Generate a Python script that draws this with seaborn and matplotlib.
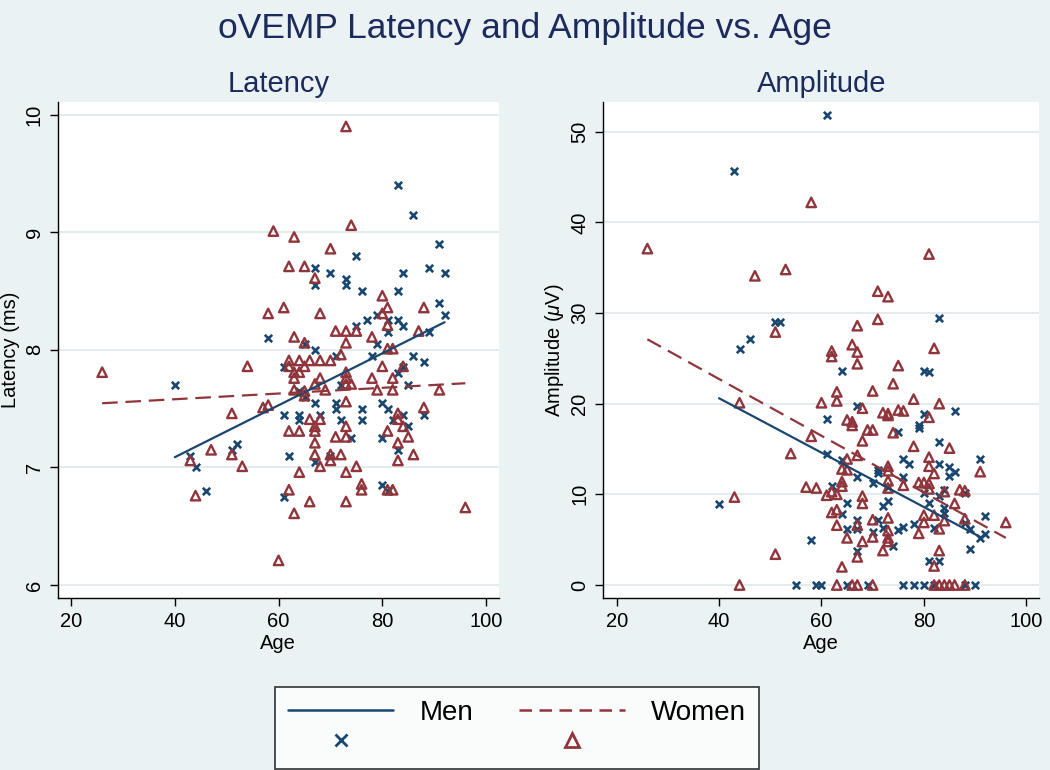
import numpy as np
import pandas as pd
import matplotlib.pyplot as plt
from matplotlib.lines import Line2D
import seaborn as sns

# ---- Latency panel (age, latency in ms) ----
men_lat_age = [83, 86, 91, 75, 67, 89, 70, 84, 92, 73, 67, 73, 76, 83, 91, 79, 92, 77, 81, 83,
               75, 84, 81, 89, 58, 79, 65, 67, 78, 86, 71, 88, 61, 84, 83, 40, 72, 85, 64, 65,
               67, 71, 80, 71, 76, 81, 61, 64, 68, 84, 88, 64, 72, 76, 82, 85, 74, 80, 52, 51,
               83, 43, 62, 70, 67, 44, 80, 46, 81, 61]
men_lat = [9.40, 9.15, 8.90, 8.80, 8.70, 8.70, 8.65, 8.65, 8.65, 8.60, 8.55, 8.55, 8.50, 8.50, 8.40,
           8.30, 8.30, 8.25, 8.25, 8.25, 8.20, 8.20, 8.15, 8.15, 8.10, 8.05, 8.05, 8.00, 7.95, 7.95,
           7.95, 7.90, 7.85, 7.85, 7.80, 7.70, 7.70, 7.70, 7.65, 7.60, 7.55, 7.55, 7.55, 7.50, 7.50,
           7.50, 7.45, 7.45, 7.45, 7.45, 7.45, 7.40, 7.40, 7.40, 7.40, 7.35, 7.25, 7.25, 7.20, 7.15,
           7.15, 7.10, 7.10, 7.10, 7.05, 7.00, 6.85, 6.80, 6.80, 6.75]

women_lat_age = [73, 74, 59, 63, 70, 62, 65, 67, 80, 61, 81, 88, 58, 68, 80, 81, 71, 73, 75, 87,
                 63, 78, 65, 73, 81, 82, 72, 62, 64, 66, 68, 70, 62, 65, 54, 80, 84, 63, 64, 73,
                 26, 63, 68, 73, 78, 82, 67, 73, 74, 63, 69, 79, 82, 91, 65, 65, 73, 58, 57, 88,
                 51, 83, 66, 68, 83, 67, 73, 84, 62, 64, 67, 81, 71, 73, 85, 67, 83, 47, 43, 51,
                 67, 70, 72, 86, 70, 83, 53, 68, 75, 64, 73, 76, 76, 62, 81, 82, 44, 66, 73, 63,
                 60, 96]
women_lat = [9.90, 9.06, 9.01, 8.96, 8.86, 8.71, 8.71, 8.61, 8.46, 8.36, 8.36, 8.36, 8.31, 8.31, 8.31,
             8.21, 8.16, 8.16, 8.16, 8.16, 8.11, 8.11, 8.06, 8.06, 8.01, 8.01, 7.96, 7.91, 7.91, 7.91,
             7.91, 7.91, 7.86, 7.86, 7.86, 7.86, 7.86, 7.81, 7.81, 7.81, 7.81, 7.76, 7.76, 7.76, 7.76,
             7.76, 7.71, 7.71, 7.71, 7.66, 7.66, 7.66, 7.66, 7.66, 7.65, 7.61, 7.56, 7.53, 7.51, 7.51,
             7.46, 7.46, 7.41, 7.41, 7.41, 7.35, 7.35, 7.35, 7.31, 7.31, 7.31, 7.31, 7.26, 7.26, 7.26,
             7.21, 7.21, 7.15, 7.06, 7.11, 7.11, 7.11, 7.11, 7.11, 7.06, 7.06, 7.01, 7.01, 7.01, 6.96,
             6.96, 6.86, 6.81, 6.81, 6.81, 6.81, 6.76, 6.71, 6.71, 6.61, 6.21, 6.66]

# fitted lines (end points)
men_lat_fit_age = [40, 92]
men_lat_fit = [7.087, 8.235]
women_lat_fit_age = [26, 96]
women_lat_fit = [7.546, 7.716]

# ---- Amplitude panel (age, amplitude in uV) ----
men_amp_age = [61, 43, 51, 52, 83, 44, 46, 64, 80, 81, 67, 80, 86, 61, 79, 79, 75, 83, 61, 64,
               76, 77, 91, 83, 85, 86, 71, 71, 85, 67, 76, 70, 62, 73, 80, 84, 88, 40, 65, 81,
               73, 72, 83, 84, 64, 84, 92, 67, 70, 71, 72, 65, 67, 75, 76, 78, 82, 88, 89, 92,
               91, 58, 74, 89, 67, 81, 83, 55, 59, 60, 65, 69, 76, 78, 80, 82, 88, 90]
men_amp = [51.8, 45.7, 29.0, 29.0, 29.4, 26.0, 27.1, 23.6, 23.6, 23.5, 19.7, 18.9, 19.2, 18.3, 17.7,
           17.3, 16.9, 15.8, 14.4, 13.8, 13.9, 13.4, 13.9, 13.4, 13.0, 12.5, 12.7, 12.4, 12.0, 11.9,
           11.9, 11.3, 10.9, 10.8, 10.2, 10.5, 10.1, 8.9, 9.1, 9.1, 9.3, 8.7, 9.8, 8.5, 7.8,
           7.9, 7.6, 7.2, 5.8, 7.2, 6.3, 6.2, 6.2, 6.1, 6.4, 6.7, 6.3, 6.8, 6.2, 5.6,
           5.2, 5.0, 4.3, 4.0, 3.8, 2.6, 2.6, 0, 0, 0, 0, 0, 0, 0, 0, 0, 0, 0]

women_amp_age = [26, 58, 47, 53, 81, 71, 73, 71, 51, 67, 66, 62, 67, 82, 62, 67, 75, 74, 63, 63,
                 70, 60, 44, 78, 83, 68, 72, 73, 73, 75, 76, 65, 81, 66, 66, 69, 70, 58, 74, 68,
                 78, 85, 54, 67, 65, 81, 73, 81, 64, 65, 73, 91, 82, 64, 73, 79, 80, 81, 64, 76,
                 57, 59, 81, 73, 87, 88, 62, 84, 63, 61, 43, 68, 68, 86, 63, 62, 82, 80, 73, 70,
                 84, 88, 96, 80, 67, 63, 73, 83, 79, 70, 73, 65, 68, 73, 72, 83, 51, 67, 82, 64,
                 44, 63, 66, 67, 70, 82, 83, 84, 85, 86, 88]
women_amp = [37.1, 42.2, 34.1, 34.8, 36.5, 32.4, 31.8, 29.3, 27.9, 28.6, 26.5, 25.8, 25.7, 26.1, 25.2,
             24.4, 24.2, 22.2, 21.3, 20.3, 21.4, 20.1, 20.1, 20.5, 20.0, 19.5, 19.0, 18.9, 18.7, 19.3,
             19.2, 18.2, 18.5, 18.0, 17.6, 17.1, 17.1, 16.4, 16.8, 15.9, 15.3, 15.1, 14.5, 14.3, 13.9,
             14.1, 13.1, 13.1, 12.8, 12.7, 12.6, 12.5, 12.3, 11.4, 11.5, 11.3, 11.3, 11.2, 10.9, 11.0,
             10.8, 10.7, 10.6, 10.7, 10.5, 10.4, 10.3, 10.3, 10.0, 9.9, 9.7, 9.8, 9.0, 9.0, 8.3,
             8.0, 7.7, 7.7, 7.4, 7.2, 7.1, 7.3, 6.9, 6.9, 6.6, 6.6, 6.0, 6.2, 5.7, 5.3,
             5.2, 5.2, 4.8, 4.8, 3.8, 3.8, 3.4, 3.1, 2.1, 2.0, 0, 0, 0, 0, 0,
             0, 0, 0, 0, 0, 0]

men_amp_fit_age = [40, 91]
men_amp_fit = [20.6, 5.3]
women_amp_fit_age = [26, 96]
women_amp_fit = [27.1, 5.2]

age_ticks = [20, 40, 60, 80, 100]
lat_ticks = [6, 7, 8, 9, 10]
amp_ticks = [0, 10, 20, 30, 40, 50]

BG = "#eaf2f3"
GRID = "#dfe9ec"
NAVY = "#1a476f"
MAROON = "#90353b"
TITLE = "#1c2a5c"
DASH = (0, (7, 3.5))

sns.set_theme(style="white")
plt.rcParams["font.family"] = ["Liberation Sans", "DejaVu Sans"]
plt.rcParams["mathtext.fontset"] = "custom"
plt.rcParams["mathtext.it"] = "Liberation Sans:italic"
plt.rcParams["mathtext.rm"] = "Liberation Sans"
plt.rcParams["text.color"] = "black"
plt.rcParams["axes.labelcolor"] = "black"
plt.rcParams["xtick.labelcolor"] = "black"
plt.rcParams["ytick.labelcolor"] = "black"


def draw_panel(ax, men_age, men_val, women_age, women_val, men_fit, women_fit,
               title, ylabel, yticks, ylim):
    men = pd.DataFrame({"age": men_age, "val": men_val})
    women = pd.DataFrame({"age": women_age, "val": women_val})

    ax.set_facecolor("white")
    ax.set_axisbelow(True)
    ax.grid(axis="y", color=GRID, lw=1.3)
    ax.grid(axis="x", visible=False)

    sns.scatterplot(data=men, x="age", y="val", marker="x", color=NAVY,
                    s=28, linewidth=1.9, ax=ax, zorder=3)
    sns.scatterplot(data=women, x="age", y="val", marker="^", facecolors="none",
                    edgecolor=MAROON, s=46, linewidth=1.7, ax=ax, zorder=3)
    sns.lineplot(x=men_fit[0], y=men_fit[1], color=NAVY, lw=1.6, ax=ax, zorder=4)
    sns.lineplot(x=women_fit[0], y=women_fit[1], color=MAROON, lw=1.6, ax=ax, zorder=4,
                 linestyle=DASH)

    ax.set_xlim(17.4, 102.5)
    ax.set_ylim(*ylim)
    ax.set_xticks(age_ticks)
    ax.set_yticks(yticks)
    ax.set_yticklabels([str(t) for t in yticks], rotation=90, va="center")
    ax.tick_params(axis="both", direction="out", length=6, width=1, color="black",
                   labelcolor="black", labelsize=14.5, pad=4, bottom=True, left=True)
    for side in ["top", "right"]:
        ax.spines[side].set_visible(False)
    for side in ["left", "bottom"]:
        ax.spines[side].set_color("black")
        ax.spines[side].set_linewidth(1.0)

    ax.set_title(title, fontsize=21, color=TITLE, pad=7)
    ax.set_xlabel("Age", fontsize=14.5, labelpad=2, color="black")
    ax.set_ylabel(ylabel, fontsize=14.5, labelpad=3, color="black")


fig = plt.figure(figsize=(10.5, 7.7), dpi=100, facecolor=BG)
ax1 = fig.add_axes([0.0548, 0.2234, 0.4205, 0.6445])
ax2 = fig.add_axes([0.5746, 0.2234, 0.4150, 0.6445])

draw_panel(ax1, men_lat_age, men_lat, women_lat_age, women_lat,
           (men_lat_fit_age, men_lat_fit), (women_lat_fit_age, women_lat_fit),
           "Latency", "Latency (ms)", lat_ticks, (5.89, 10.11))
draw_panel(ax2, men_amp_age, men_amp, women_amp_age, women_amp,
           (men_amp_fit_age, men_amp_fit), (women_amp_fit_age, women_amp_fit),
           "Amplitude", "Amplitude ($\\mu$V)", amp_ticks, (-1.43, 53.3))

fig.suptitle("oVEMP Latency and Amplitude vs. Age", fontsize=25.5, color=TITLE, y=0.985)

handles = [
    Line2D([], [], color=NAVY, lw=1.8),
    Line2D([], [], color=NAVY, marker="x", ls="none", markersize=8, markeredgewidth=2),
    Line2D([], [], color=MAROON, lw=1.8, ls=(0, (5, 3))),
    Line2D([], [], color=MAROON, marker="^", ls="none", markersize=10,
           markerfacecolor="none", markeredgewidth=2),
]
labels = ["Men", "", "Women", ""]
leg = fig.legend(handles, labels, ncol=2, loc="lower center", bbox_to_anchor=(0.4924, 0.0),
                 fontsize=20, frameon=True, fancybox=False, edgecolor="black",
                 handlelength=3.8, handletextpad=0.95, columnspacing=1.65,
                 labelspacing=0.15, borderpad=0.45, borderaxespad=0.05, labelcolor="black")
leg.get_frame().set_linewidth(1.2)
leg.get_frame().set_facecolor("white")

fig.savefig("out.png", dpi=100, facecolor=BG)
